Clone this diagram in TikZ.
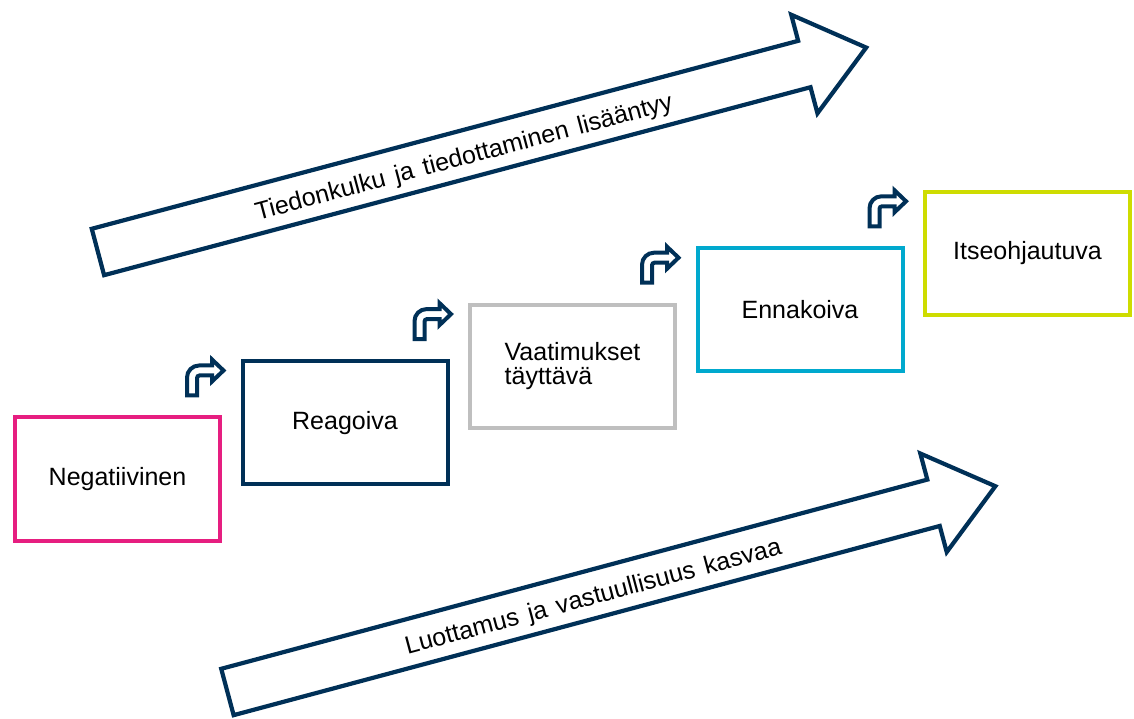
\documentclass[tikz,border=0pt]{standalone}
\usepackage{fontspec}
\setmainfont{Liberation Sans}
\usetikzlibrary{positioning}
\definecolor{trendnavy}{RGB}{0,48,87}
\definecolor{stagepink}{RGB}{230,30,128}
\definecolor{stagegrey}{RGB}{191,191,191}
\definecolor{stagecyan}{RGB}{0,169,206}
\definecolor{stagelime}{RGB}{206,220,0}
\newcommand{\wgap}{\hspace{5pt}}
% small bent arrow above the corner of a stage box
\newcommand{\turnarrow}[1]{%
  \begin{scope}[shift={(#1.north east)},shift={(-37,18)}]
    \draw[bendarrow] (2,2) -- (2,20) arc[start angle=180,end angle=90,radius=12]
      -- (27,32) -- (27,38) -- (38.5,27) -- (27,16) -- (27,22) -- (14.5,22)
      arc[start angle=90,end angle=180,radius=2.5] -- (12,2) -- cycle;
  \end{scope}}
% long outlined arrow with its text: name, tail centre, angle, text
\newcommand{\trendarrow}[4]{%
  \begin{scope}[shift={#2},rotate=#3]
    \draw[trendshape] (2,-24) -- (733,-24) -- (733,-51) -- (797,0)
      -- (733,51) -- (733,24) -- (2,24) -- cycle;
    \node[trendtext,transform shape] (#1) at (380,-1.5) {#4};
  \end{scope}}
\begin{document}
\begin{tikzpicture}[x=0.5pt,y=0.5pt,
    box/.style={rectangle,draw,line width=2pt,fill=white,minimum width=102.5pt,
      minimum height=61.5pt,inner sep=0pt,font=\fontsize{12.5}{11.7}\selectfont},
    bendarrow/.style={draw=trendnavy,fill=white,line width=2pt},
    trendshape/.style={draw=trendnavy,fill=white,line width=2.1pt},
    trendtext/.style={font=\fontsize{12.5}{15}\selectfont,text height=8.9pt,
      text depth=0pt,inner sep=0pt}]
  \useasboundingbox (0,0) rectangle (1134,718);
  \trendarrow{info}{(96,465.5)}{14.9}{Tiedonkulku\wgap ja\wgap tiedottaminen\wgap lisääntyy}
  \trendarrow{trust}{(225.5,25.5)}{15}{Luottamus\wgap ja\wgap vastuullisuus\wgap kasvaa}
  \node[box,draw=stagepink] (neg) at (117.5,239) {Negatiivinen};
  \node[box,draw=trendnavy,right=9.25pt of neg,yshift=28.2pt] (rea) {Reagoiva};
  \node[box,draw=stagegrey,right=9.25pt of rea,yshift=28.2pt,align=left] (vaa) {Vaatimukset\\täyttävä};
  \node[box,draw=stagecyan,right=9.25pt of vaa,yshift=28.2pt] (enn) {Ennakoiva};
  \node[box,draw=stagelime,right=9.25pt of enn,yshift=28.2pt] (itse) {Itseohjautuva};
  \foreach \s in {neg,rea,vaa,enn}{\turnarrow{\s}}
\end{tikzpicture}
\end{document}
